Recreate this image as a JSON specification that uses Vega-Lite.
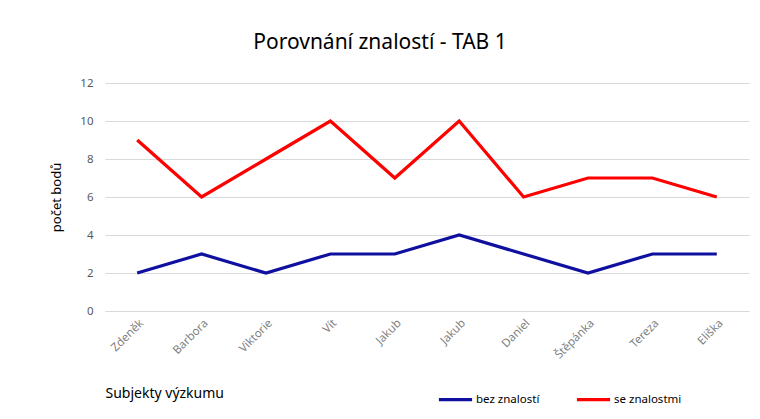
{
  "$schema": "https://vega.github.io/schema/vega-lite/v6.json",
  "width": 644,
  "height": 228,
  "autosize": {"type": "none"},
  "padding": {"left": 105, "top": 83, "right": 11, "bottom": 108},
  "background": "white",
  "title": {
    "text": "Porovnání znalostí - TAB 1",
    "font": "Liberation Sans Narrow, Noto Sans",
    "fontSize": 21,
    "fontWeight": "normal",
    "color": "#000000",
    "anchor": "middle",
    "dx": -47,
    "offset": 24
  },
  "data": {
    "values": [
      {"i": 0, "name": "Zdeněk", "series": "bez znalostí", "v": 2},
      {"i": 1, "name": "Barbora", "series": "bez znalostí", "v": 3},
      {"i": 2, "name": "Viktorie", "series": "bez znalostí", "v": 2},
      {"i": 3, "name": "Vít", "series": "bez znalostí", "v": 3},
      {"i": 4, "name": "Jakub", "series": "bez znalostí", "v": 3},
      {"i": 5, "name": "Jakub", "series": "bez znalostí", "v": 4},
      {"i": 6, "name": "Daniel", "series": "bez znalostí", "v": 3},
      {"i": 7, "name": "Štěpánka", "series": "bez znalostí", "v": 2},
      {"i": 8, "name": "Tereza", "series": "bez znalostí", "v": 3},
      {"i": 9, "name": "Eliška", "series": "bez znalostí", "v": 3},
      {"i": 0, "name": "Zdeněk", "series": "se znalostmi", "v": 9},
      {"i": 1, "name": "Barbora", "series": "se znalostmi", "v": 6},
      {"i": 2, "name": "Viktorie", "series": "se znalostmi", "v": 8},
      {"i": 3, "name": "Vít", "series": "se znalostmi", "v": 10},
      {"i": 4, "name": "Jakub", "series": "se znalostmi", "v": 7},
      {"i": 5, "name": "Jakub", "series": "se znalostmi", "v": 10},
      {"i": 6, "name": "Daniel", "series": "se znalostmi", "v": 6},
      {"i": 7, "name": "Štěpánka", "series": "se znalostmi", "v": 7},
      {"i": 8, "name": "Tereza", "series": "se znalostmi", "v": 7},
      {"i": 9, "name": "Eliška", "series": "se znalostmi", "v": 6}
    ]
  },
  "mark": {"type": "line", "strokeWidth": 3.2, "strokeJoin": "miter", "strokeCap": "butt"},
  "encoding": {
    "x": {
      "field": "i",
      "type": "ordinal",
      "scale": {"type": "point", "padding": 0.5},
      "axis": {
        "title": "Subjekty výzkumu",
        "titleFont": "Liberation Sans Narrow, Noto Sans",
        "titleFontSize": 14,
        "titleFontWeight": "normal",
        "titleColor": "#000000",
        "titleAnchor": "start",
        "titleAlign": "left",
        "titlePadding": 26,
        "labelExpr": "['Zdeněk','Barbora','Viktorie','Vít','Jakub','Jakub','Daniel','Štěpánka','Tereza','Eliška'][datum.value]",
        "labelAngle": -45,
        "labelFont": "Liberation Sans Narrow, Noto Sans",
        "labelFontSize": 11.5,
        "labelColor": "#7f7f7f",
        "labelPadding": 6,
        "ticks": false,
        "domain": true,
        "domainColor": "#d9d9d9",
        "grid": false
      }
    },
    "y": {
      "field": "v",
      "type": "quantitative",
      "scale": {"domain": [0, 12]},
      "axis": {
        "title": "počet bodů",
        "titleFont": "Liberation Sans Narrow, Noto Sans",
        "titleFontSize": 13,
        "titleFontWeight": "normal",
        "titleColor": "#000000",
        "titlePadding": 16,
        "values": [0, 2, 4, 6, 8, 10, 12],
        "labelFont": "Liberation Sans Narrow, Noto Sans",
        "labelFontSize": 11.5,
        "labelColor": "#595959",
        "labelPadding": 12,
        "ticks": false,
        "domain": false,
        "grid": true,
        "gridColor": "#d9d9d9",
        "gridWidth": 1
      }
    },
    "color": {
      "field": "series",
      "type": "nominal",
      "scale": {"domain": ["bez znalostí", "se znalostmi"], "range": ["#1010a0", "#ff0000"]},
      "legend": {
        "title": null,
        "orient": "none",
        "legendX": 332,
        "legendY": 298,
        "direction": "horizontal",
        "symbolType": "stroke",
        "symbolSize": 1100,
        "symbolStrokeWidth": 3.2,
        "labelFont": "Liberation Sans Narrow, Noto Sans",
        "labelFontSize": 11.5,
        "labelColor": "#000000",
        "labelOffset": 2,
        "columnPadding": 30
      }
    }
  },
  "config": {"view": {"stroke": null}}
}
